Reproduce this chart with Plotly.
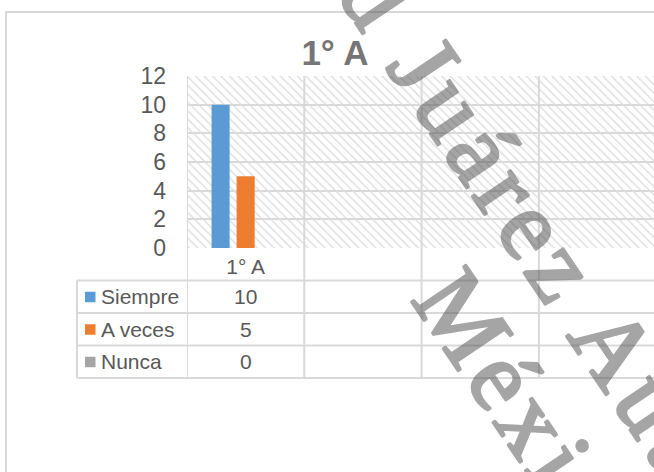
import plotly.graph_objects as go

# ---------------- data ----------------
categories = ["1° A"]
series_names = ["Siempre", "A veces", "Nunca"]
siempre = [10]
a_veces = [5]
nunca = [0]
series_values = [siempre, a_veces, nunca]
series_colors = ["#5B9BD5", "#ED7D31", "#A5A5A5"]
y_ticks = [0, 2, 4, 6, 8, 10, 12]
title_text = "1° A"
watermark_line1 = "Universidad Juárez Autónoma de Tabasco"
watermark_line2 = "México"

# ---------------- layout geometry (screen pixels) ----------------
W, H = 654, 472
PL, PR, PT, PB = 187, 654, 76, 248
n_slots = 4          # category columns shown by the Excel chart
slot_px = 117.3
row_lines = [280.5, 313, 345.5, 378]
table_left = 77

def px_x(px):
    return (px - PL) / (PR - PL)

def px_y(py):
    return (PB - py) / (PB - PT)

FONT = "Liberation Sans, Arial, sans-serif"
TXT = "#595959"
GRID = "#d9d9d9"

fig = go.Figure()

# hatched plot-area background
fig.add_trace(go.Bar(
    x=[(n_slots - 1) / 2], y=[y_ticks[-1]], width=[n_slots + 2],
    marker=dict(color="rgba(0,0,0,0)", line=dict(width=0),
                pattern=dict(shape="\\", fgcolor="#dcdcdc", bgcolor="rgba(0,0,0,0)",
                             size=6, solidity=0.22, fillmode="replace")),
    hoverinfo="skip", showlegend=False, xaxis="x", yaxis="y"))

# data bars
xs = list(range(len(categories)))
for name, vals, col in zip(series_names, series_values, series_colors):
    fig.add_trace(go.Bar(x=xs, y=vals, name=name, marker=dict(color=col, line=dict(width=0)),
                         xaxis="x", yaxis="y2", showlegend=False))

shapes = []
# outer chart border
shapes.append(dict(type="rect", xref="paper", yref="paper",
                   x0=px_x(6), x1=px_x(720), y0=px_y(530), y1=px_y(12),
                   line=dict(color=GRID, width=2), fillcolor="rgba(0,0,0,0)", layer="below"))
# vertical category boundaries through plot and table
for k in range(n_slots + 1):
    shapes.append(dict(type="line", xref="x", yref="paper", x0=-0.5 + k, x1=-0.5 + k,
                       y0=px_y(row_lines[-1]), y1=1, line=dict(color=GRID, width=2)))
# horizontal table lines
for py in row_lines:
    shapes.append(dict(type="line", xref="paper", yref="paper", x0=px_x(table_left), x1=1.05,
                       y0=px_y(py), y1=px_y(py), line=dict(color=GRID, width=2)))
# table left border
shapes.append(dict(type="line", xref="paper", yref="paper", x0=px_x(table_left), x1=px_x(table_left),
                   y0=px_y(row_lines[0]), y1=px_y(row_lines[-1]), line=dict(color=GRID, width=2)))

annotations = []
for i, (name, vals, col) in enumerate(zip(series_names, series_values, series_colors)):
    top, bot = row_lines[i], row_lines[i + 1]
    cy = (top + bot) / 2
    # legend key square
    shapes.append(dict(type="rect", xref="paper", yref="paper",
                       x0=px_x(85), x1=px_x(95.5), y0=px_y(cy + 5.5), y1=px_y(cy - 5),
                       fillcolor=col, line=dict(width=0)))
    annotations.append(dict(text=name, xref="paper", yref="paper", x=px_x(99), y=px_y(cy),
                            xanchor="left", yanchor="middle", showarrow=False,
                            font=dict(family=FONT, size=21, color=TXT)))
    for xi, v in zip(xs, vals):
        annotations.append(dict(text=str(v), xref="x", yref="paper", x=xi, y=px_y(cy),
                                xanchor="center", yanchor="middle", showarrow=False,
                                font=dict(family=FONT, size=21, color=TXT)))

# watermark (serif, slightly letter-spaced, thickened by a stroke)
WM_COL = "#4d4d4d"
WM = dict(family="Liberation Serif, Times New Roman, serif", size=100, color=WM_COL)
def spaced(t):
    return ('<span style="letter-spacing:7px;stroke:' + WM_COL +
            ';stroke-width:3px;stroke-linejoin:round">' + t + '</span>')
annotations.append(dict(text=spaced(watermark_line1), xref="paper", yref="paper", x=px_x(623), y=px_y(359),
                        xanchor="center", yanchor="middle", textangle=56, showarrow=False,
                        font=WM, opacity=0.5))
annotations.append(dict(text=spaced(watermark_line2), xref="paper", yref="paper", x=px_x(535), y=px_y(424),
                        xanchor="center", yanchor="middle", textangle=56, showarrow=False,
                        font=WM, opacity=0.5))

fig.update_layout(
    width=W, height=H,
    margin=dict(l=PL, r=W - PR, t=PT, b=H - PB, pad=0),
    paper_bgcolor="white", plot_bgcolor="white",
    barmode="group", bargap=0.359, bargroupgap=0.28,
    showlegend=False,
    title=dict(text="<b>" + title_text + "</b>", xref="paper", x=px_x(335), xanchor="center",
               yref="container", y=1 - 53 / H, yanchor="middle",
               font=dict(family=FONT, size=35, color="#767676")),
    xaxis=dict(range=[-0.5, -0.5 + (PR - PL) / slot_px], tickmode="array", tickvals=xs,
               ticktext=categories, showgrid=False, zeroline=False, showline=False, ticks="",
               ticklabelstandoff=4, tickfont=dict(family=FONT, size=21, color=TXT)),
    yaxis=dict(range=[0, 12], tickmode="array", tickvals=y_ticks, showgrid=True, gridcolor=GRID,
               gridwidth=2, zeroline=False, showline=False, ticks="", ticklabelstandoff=20,
               tickfont=dict(family=FONT, size=23, color=TXT)),
    yaxis2=dict(range=[0, 12], overlaying="y", visible=False),
    shapes=shapes, annotations=annotations,
)

fig.write_html("out.html", config={"displayModeBar": False},
               post_script="document.body.style.margin='0';")
